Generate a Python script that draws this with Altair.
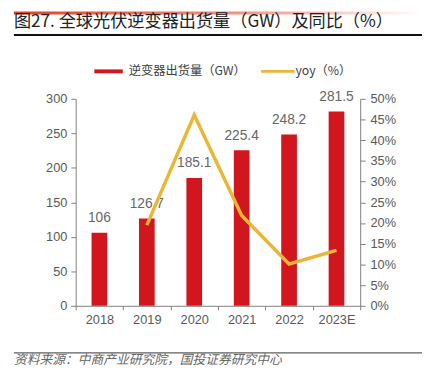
import altair as alt
import pandas as pd

years = ["2018", "2019", "2020", "2021", "2022", "2023E"]
shipments = [106, 126.7, 185.1, 225.4, 248.2, 281.5]
yoy = [None, 0.195, 0.461, 0.218, 0.101, 0.134]
left_ticks = [0, 50, 100, 150, 200, 250, 300]
right_ticks = [0, 0.05, 0.10, 0.15, 0.20, 0.25, 0.30, 0.35, 0.40, 0.45, 0.50]

title_text = "图27. 全球光伏逆变器出货量（GW）及同比（%）"
source_text = "资料来源：中商产业研究院，国投证券研究中心"
legend_bar = "逆变器出货量（GW）"
legend_line = "yoy（%）"

RED = "#D2161E"
YEL = "#EBB536"
AX = "#808080"
LAB = "#595959"
CJK = "Noto Sans CJK SC"
LAT = "Liberation Sans"

df = pd.DataFrame({"year": years, "ship": shipments, "yoy": yoy,
                   "label": [f"{v:g}" for v in shipments]})
one = pd.DataFrame({"a": [0]})

x = alt.X("year:N", sort=years,
          scale=alt.Scale(paddingInner=0, paddingOuter=0),
          axis=alt.Axis(title=None, labelAngle=0, tickBand="extent",
                        labelFont=LAT, labelFontSize=13, labelColor=LAB,
                        domainColor=AX, tickColor=AX, tickSize=4,
                        labelPadding=4))

bars = alt.Chart(df).mark_bar(size=16, color=RED).encode(
    x=x,
    y=alt.Y("ship:Q", scale=alt.Scale(domain=[0, 300]),
            axis=alt.Axis(values=left_ticks, title=None, grid=False,
                          orient="left", labelFont=LAT, labelFontSize=13,
                          labelColor=LAB, domainColor=AX, tickColor=AX,
                          tickSize=5, labelPadding=4)),
)

texts = alt.Chart(df).mark_text(dy=-15, baseline="middle", font=LAT,
                                fontSize=14, color="#666666").encode(
    x=x,
    y=alt.Y("ship:Q", scale=alt.Scale(domain=[0, 300]), axis=None),
    text="label:N",
)

line = alt.Chart(df).mark_line(color=YEL, strokeWidth=3.5).encode(
    x=x,
    y=alt.Y("yoy:Q", scale=alt.Scale(domain=[0, 0.5]),
            axis=alt.Axis(values=right_ticks, title=None, grid=False,
                          orient="right", format=".0%", labelFont=LAT,
                          labelFontSize=13, labelColor=LAB, domainColor=AX,
                          tickColor=AX, tickSize=5, labelPadding=5)),
)

grad = alt.Chart(one).mark_rect(
    color=alt.LinearGradient(gradient="linear", x1=0, x2=1, y1=0, y2=0,
                             stops=[alt.GradientStop(color="#E53D24", offset=0),
                                    alt.GradientStop(color="#EF9484", offset=0.55),
                                    alt.GradientStop(color="#FFFFFF", offset=1)])
).encode(x=alt.value(-63), x2=alt.value(353), y=alt.value(-89), y2=alt.value(-86))

title = alt.Chart(one).mark_text(align="left", baseline="middle", font=CJK,
                                 fontSize=17.5, color="#222222").encode(
    x=alt.value(-63), y=alt.value(-78), text=alt.value(title_text))

uline = alt.Chart(one).mark_rule(color="#111111", strokeWidth=2).encode(
    x=alt.value(-63), x2=alt.value(353), y=alt.value(-65))

leg_rect = alt.Chart(one).mark_rect(color=RED).encode(
    x=alt.value(19), x2=alt.value(48), y=alt.value(-30), y2=alt.value(-26))
leg_t1 = alt.Chart(one).mark_text(align="left", baseline="middle", font=CJK,
                                  fontSize=12.5, color="#404040").encode(
    x=alt.value(54), y=alt.value(-28), text=alt.value(legend_bar))
leg_line = alt.Chart(one).mark_rule(color=YEL, strokeWidth=3).encode(
    x=alt.value(189), x2=alt.value(223), y=alt.value(-28))
leg_t2 = alt.Chart(one).mark_text(align="left", baseline="middle", font=CJK,
                                  fontSize=12.5, color="#404040").encode(
    x=alt.value(224), y=alt.value(-28), text=alt.value(legend_line))

sline = alt.Chart(one).mark_rule(color="#333333", strokeWidth=1).encode(
    x=alt.value(-63), x2=alt.value(353), y=alt.value(259))
src = alt.Chart(one).mark_text(align="left", baseline="middle", font=CJK,
                               fontSize=13, fontStyle="italic",
                               color="#666666").encode(
    x=alt.value(-63), y=alt.value(266), text=alt.value(source_text))

chart = alt.layer(
    bars, texts, line, grad, title, uline, leg_rect, leg_t1, leg_line, leg_t2,
    sline, src
).resolve_scale(y="independent").properties(
    width=290, height=211,
    padding={"left": 69, "top": 89, "right": 63, "bottom": 70},
    autosize=alt.AutoSizeParams(type="none"),
).configure_view(stroke=None)

chart.save("out.html", embed_options={"renderer": "svg", "actions": False})
